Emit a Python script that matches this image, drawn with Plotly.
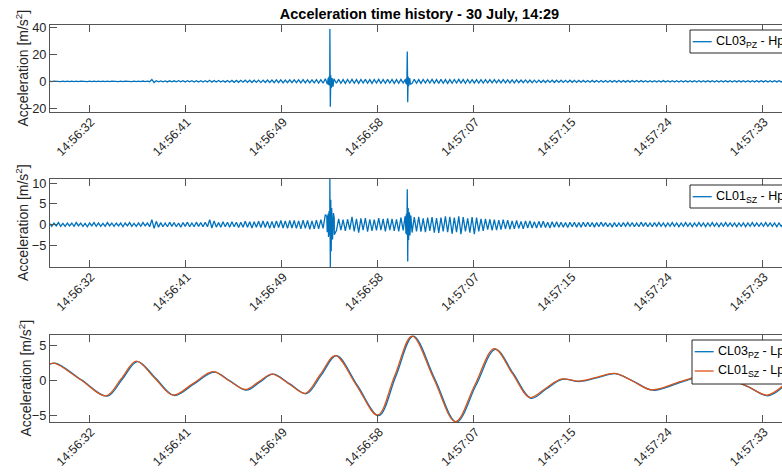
import numpy as np
import plotly.graph_objects as go

# ---- time base: seconds after 14:56:00 ----
x_range = [29.04, 94.87]
tick_seconds = [32.55, 41.2, 49.85, 58.5, 67.15, 75.8, 84.45, 93.1]
tick_labels = ["14:56:32", "14:56:41", "14:56:49", "14:56:58",
               "14:57:07", "14:57:15", "14:57:24", "14:57:33"]

# high-pass records, one value every 0.2 s starting at 29.0 s
hp_t0 = 29.0
hp_dt = 0.2

cl03_hp = [
    0.15, -0.2, 0.15, -0.1, 0.2, -0.15, 0.1, -0.2, 0.15, -0.15,
    0.2, -0.15, 0.1, -0.2, 0.15, -0.1, 0.2, -0.15, 0.15, -0.2,
    0.1, -0.15, 0.2, -0.15, 0.15, -0.2, 0.1, -0.15, 0.2, -0.1,
    0.15, -0.2, 0.15, -0.15, 0.2, -0.1, 0.15, -0.2, 0.15, -0.15,
    0.2, -0.2, 0.25, -0.2, 0.2, -0.3, 1.3, -0.9, 0.5, -0.4,
    0.35, -0.4, 0.3, -0.45, 0.4, -0.35, 0.4, -0.4, 0.45, -0.4,
    0.4, -0.45, 0.5, -0.4, 0.45, -0.5, 0.4, -0.45, 0.5, -0.45,
    0.5, -0.5, 0.8, -0.6, 0.55, -0.5, 0.6, -0.55, 0.5, -0.6,
    0.65, -0.65, 0.7, -0.75, 0.65, -0.7, 0.75, -0.65, 0.8, -0.75,
    0.8, -0.9, 0.85, -0.8, 0.9, -0.95, 0.9, -0.85, 1.0, -0.9,
    1.0, -0.95, 1.1, -1.0, 1.05, -1.1, 1.0, -1.05, 1.1, -1.0,
    1.1, -1.05, 1.15, -1.1, 1.2, -1.1, 1.05, -1.2, 1.1, -1.15,
    1.2, -1.3, 1.2, -1.4, 1.9, -1.6, 1.4, -1.7, 1.5, -1.4,
    1.5, -1.4, 1.3, -1.5, 1.4, -1.3, 1.5, -1.4, 1.3, -1.5,
    1.4, -1.3, 1.5, -1.4, 1.3, -1.5, 1.4, -1.3, 1.5, -1.4,
    1.3, -1.4, 1.5, -1.3, 1.4, -1.5, 1.3, -1.4, 1.5, -1.3,
    1.4, -1.5, 1.7, -1.6, 1.5, -1.4, 1.3, -1.5, 1.4, -1.3,
    1.4, -1.3, 1.5, -1.4, 1.3, -1.5, 1.4, -1.4, 1.3, -1.5,
    1.3, -1.4, 1.4, -1.3, 1.5, -1.3, 1.3, -1.4, 1.4, -1.3,
    1.3, -1.2, 1.3, -1.3, 1.2, -1.3, 1.2, -1.2, 1.3, -1.2,
    1.2, -1.2, 1.1, -1.2, 1.2, -1.1, 1.1, -1.2, 1.1, -1.1,
    1.05, -1.05, 0.95, -1.05, 1.05, -0.95, 0.95, -1.0, 0.9, -0.95,
    0.9, -0.9, 0.8, -0.9, 0.9, -0.8, 0.8, -0.9, 0.8, -0.8,
    0.8, -0.8, 0.7, -0.8, 0.8, -0.7, 0.7, -0.8, 0.65, -0.7,
    0.65, -0.7, 0.65, -0.65, 0.7, -0.6, 0.65, -0.65, 0.6, -0.65,
    0.6, -0.65, 0.6, -0.6, 0.65, -0.55, 0.6, -0.6, 0.55, -0.6,
    0.55, -0.6, 0.55, -0.55, 0.6, -0.55, 0.55, -0.55, 0.5, -0.55,
    0.5, -0.5, 0.5, -0.55, 0.5, -0.5, 0.55, -0.5, 0.45, -0.5,
    0.5, -0.45, 0.5, -0.5, 0.45, -0.5, 0.45, -0.45, 0.5, -0.45,
    0.45, -0.5, 0.45, -0.45, 0.5, -0.45, 0.45, -0.45, 0.45, -0.5,
    0.45, -0.45, 0.5, -0.45, 0.45, -0.45, 0.45, -0.5, 0.45, -0.45,
    0.45, -0.45, 0.45, -0.5, 0.45, -0.45, 0.5, -0.45, 0.45, -0.45,
    0.45, -0.45, 0.45, -0.45, 0.5, -0.45, 0.45, -0.45, 0.45, -0.45,
    0.4,
]

cl01_hp = [
    0.3, -0.4, 0.4, -0.3, 0.5, -0.4, 0.3, -0.4, 0.4, -0.3,
    0.4, -0.4, 0.5, -0.3, 0.4, -0.4, 0.3, -0.5, 0.4, -0.3,
    0.5, -0.4, 0.4, -0.4, 0.3, -0.4, 0.5, -0.3, 0.4, -0.4,
    0.4, -0.3, 0.4, -0.5, 0.4, -0.3, 0.5, -0.4, 0.3, -0.4,
    0.4, -0.4, 0.5, -0.3, 0.4, -0.5, 1.2, -0.9, 0.8, -0.6,
    0.5, -0.5, 0.4, -0.5, 0.6, -0.4, 0.5, -0.5, 0.4, -0.6,
    0.5, -0.4, 0.6, -0.5, 0.4, -0.5, 0.6, -0.4, 0.5, -0.5,
    0.6, -0.5, 1.2, -0.8, 0.9, -0.6, 0.5, -0.6, 0.7, -0.5,
    0.6, -0.6, 0.7, -0.5, 0.6, -0.7, 0.6, -0.6, 0.8, -0.6,
    0.7, -0.8, 0.7, -0.6, 0.8, -0.7, 0.9, -0.7, 0.8, -0.9,
    0.8, -0.8, 0.9, -0.7, 1.0, -0.8, 0.9, -0.9, 1.0, -0.8,
    1.0, -0.9, 0.9, -1.0, 1.1, -0.9, 1.0, -1.1, 0.9, -1.0,
    1.1, -1.0, 1.2, -0.9, 2.4, -1.0, 1.5, -2.0, 1.6, -1.4,
    1.4, -1.3, 1.2, -1.5, 1.3, -1.2, 1.9, -1.6, 1.4, -1.9,
    1.5, -1.3, 1.6, -1.7, 1.3, -1.5, 1.2, -1.4, 1.6, -1.3,
    1.4, -1.6, 1.5, -1.3, 1.4, -1.5, 1.3, -1.6, 1.7, -1.4,
    1.6, -1.5, 2.2, -1.9, 1.8, -1.6, 1.9, -1.7, 1.5, -1.8,
    1.7, -1.5, 1.8, -1.9, 1.6, -2.0, 1.7, -1.6, 2.0, -1.8,
    1.9, -2.2, 1.7, -1.8, 2.0, -2.3, 1.8, -1.6, 1.5, -1.9,
    1.8, -2.3, 1.7, -1.6, 1.4, -1.5, 1.4, -1.2, 1.3, -1.4,
    1.2, -1.3, 1.1, -1.2, 1.2, -1.0, 1.1, -1.1, 0.9, -1.0,
    1.0, -0.9, 0.8, -1.0, 0.9, -0.8, 0.9, -0.8, 0.7, -0.8,
    0.8, -0.7, 0.8, -0.7, 0.6, -0.8, 0.7, -0.6, 0.7, -0.6,
    0.6, -0.6, 0.5, -0.7, 0.6, -0.5, 0.6, -0.6, 0.5, -0.6,
    0.6, -0.5, 0.6, -0.5, 0.5, -0.6, 0.5, -0.5, 0.6, -0.4,
    0.5, -0.5, 0.4, -0.6, 0.5, -0.5, 0.4, -0.5, 0.5, -0.4,
    0.5, -0.4, 0.5, -0.5, 0.4, -0.5, 0.6, -0.4, 0.5, -0.5,
    0.4, -0.5, 0.5, -0.4, 0.5, -0.4, 0.4, -0.5, 0.4, -0.4,
    0.5, -0.4, 0.4, -0.5, 0.4, -0.4, 0.5, -0.4, 0.4, -0.5,
    0.4, -0.4, 0.5, -0.4, 0.4, -0.5, 0.4, -0.4, 0.5, -0.4,
    0.4, -0.5, 0.4, -0.4, 0.5, -0.4, 0.4, -0.4, 0.4, -0.5,
    0.4, -0.4, 0.4, -0.5, 0.4, -0.4, 0.5, -0.4, 0.4, -0.4,
    0.4, -0.4, 0.5, -0.4, 0.4, -0.4, 0.4, -0.5, 0.4, -0.4,
    0.3,
]

# impulsive events, sampled more densely
cl03_ev1_t = [53.97, 54.05, 54.09, 54.13, 54.17, 54.21, 54.25, 54.29, 54.33, 54.41, 54.49, 54.57]
cl03_ev1_v = [-1.8, 2.2, -2.6, 3.5, -3.0, 38.8, -18.8, 4.5, -5.0, 2.5, -4.0, 1.8]
cl03_ev2_t = [61.05, 61.09, 61.13, 61.17, 61.21, 61.25, 61.29, 61.37, 61.45]
cl03_ev2_v = [-1.8, 2.2, -2.5, 22.0, -15.5, 3.5, -3.5, 2.2, -2.0]

cl01_ev1_t = [53.93, 53.97, 54.05, 54.09, 54.13, 54.17, 54.21, 54.25, 54.29, 54.33, 54.37, 54.45, 54.53, 54.61]
cl01_ev1_v = [2.0, -1.8, 2.6, -3.0, 3.2, -2.5, 11.0, -10.2, 6.0, -6.4, 4.0, -3.6, 2.8, -2.4]
cl01_ev2_t = [60.97, 61.05, 61.09, 61.13, 61.17, 61.21, 61.25, 61.29, 61.33, 61.41, 61.49]
cl01_ev2_v = [2.0, -2.2, 2.6, -2.4, 8.5, -8.9, 4.0, -3.7, 3.0, -2.6, 2.2]

# low-pass records (turning points and crossings)
cl03_lp_t = [29.0, 29.6, 31.9, 34.2, 35.55, 36.9, 38.55, 40.2, 42.0, 43.8, 45.25, 46.7, 47.9, 49.1,
             50.6, 52.1, 53.45, 54.8, 56.7, 58.6, 60.15, 61.7, 63.65, 65.6, 67.35, 69.1, 70.7, 72.3,
             73.7, 75.1, 76.7, 78.3, 79.95, 81.6, 83.25, 85.9, 88.7, 91.8, 93.6, 94.9]
cl03_lp_v = [2.35, 2.5, 0.1, -2.2, 0.25, 2.75, 0.35, -2.1, -0.45, 1.25, -0.05, -1.35, -0.2, 0.95,
             -0.45, -1.85, 0.85, 3.6, -0.7, -5.0, 0.7, 6.4, 0.25, -5.9, -0.65, 4.5, 1.05, -2.5,
             -1.15, 0.2, -0.1, 0.45, 1.0, -0.15, -1.35, -0.15, 0.95, -0.85, -2.15, -0.95]
cl01_lp_t = [29.0, 29.5, 31.8, 34.1, 35.45, 36.8, 38.45, 40.1, 41.9, 43.7, 45.15, 46.6, 47.8, 49.0,
             50.5, 52.0, 53.35, 54.7, 56.6, 58.5, 60.05, 61.6, 63.55, 65.5, 67.25, 69.0, 70.6, 72.2,
             73.6, 75.0, 76.6, 78.2, 79.85, 81.5, 83.15, 85.8, 88.6, 91.7, 93.5, 94.9]
cl01_lp_v = [2.4, 2.5, 0.15, -2.15, 0.3, 2.8, 0.4, -2.05, -0.4, 1.3, 0.0, -1.25, -0.15, 0.95,
             -0.4, -1.8, 0.9, 3.6, -0.65, -4.9, 0.75, 6.4, 0.3, -5.85, -0.6, 4.6, 1.1, -2.4,
             -1.1, 0.25, -0.05, 0.5, 1.05, -0.1, -1.3, -0.1, 1.0, -0.75, -2.05, -0.8]

BLUE = "#0072BD"
ORANGE = "#D95319"
AXIS = "#555555"
TXT = "#262626"
FONT = "Liberation Sans, Arial, Helvetica, sans-serif"
Y_TITLE = "Acceleration [m/s<sup>2</sup>]"


def record(values, extra_t, extra_v):
    """Regular samples plus the densely sampled events, in time order."""
    t = hp_t0 + hp_dt * np.arange(len(values))
    t = np.concatenate([t] + [np.asarray(e) for e in extra_t])
    v = np.concatenate([np.asarray(values)] + [np.asarray(e) for e in extra_v])
    order = np.argsort(t, kind="stable")
    return t[order], v[order]


t03, v03 = record(cl03_hp, [cl03_ev1_t, cl03_ev2_t], [cl03_ev1_v, cl03_ev2_v])
t01, v01 = record(cl01_hp, [cl01_ev1_t, cl01_ev2_t], [cl01_ev1_v, cl01_ev2_v])

fig = go.Figure()
fig.add_trace(go.Scatter(x=t03, y=v03, mode="lines", name="CL03<sub>PZ</sub> - Hp",
                         line=dict(color=BLUE, width=1.3), xaxis="x", yaxis="y"))
fig.add_trace(go.Scatter(x=t01, y=v01, mode="lines", name="CL01<sub>SZ</sub> - Hp",
                         line=dict(color=BLUE, width=1.3), xaxis="x2", yaxis="y2"))
fig.add_trace(go.Scatter(x=cl03_lp_t, y=cl03_lp_v, mode="lines", name="CL03<sub>PZ</sub> - Lp",
                         line=dict(color=BLUE, width=1.3, shape="spline", smoothing=1.0),
                         xaxis="x3", yaxis="y3"))
fig.add_trace(go.Scatter(x=cl01_lp_t, y=cl01_lp_v, mode="lines", name="CL01<sub>SZ</sub> - Lp",
                         line=dict(color=ORANGE, width=1.3, shape="spline", smoothing=1.0),
                         xaxis="x3", yaxis="y3"))

# panel geometry in pixels (top, bottom) for a 782 x 475 page
L, R, T, B = 50, 782, 25, 422
panels = [(25, 112), (179, 267), (335, 422)]
y_title_x = [22, 22, 25]


def fy(py):
    return (B - py) / (B - T)


def fx(px):
    return (px - L) / (R - L)


xcommon = dict(range=x_range, tickmode="array", tickvals=tick_seconds, ticktext=tick_labels,
               tickangle=-45, ticks="inside", ticklen=7, tickwidth=1, tickcolor=AXIS,
               ticklabelstandoff=-3, ticklabelshift=2,
               showline=True, linecolor=AXIS, linewidth=1, mirror="ticks",
               showgrid=False, zeroline=False, tickfont=dict(family=FONT, size=12.3, color=TXT))
ycommon = dict(ticks="inside", ticklen=7, tickwidth=1, tickcolor=AXIS, showline=True,
               linecolor=AXIS, linewidth=1, mirror=False, showgrid=False, zeroline=False,
               tickfont=dict(family=FONT, size=12.8, color=TXT))

y_ranges = [[-22.7, 41.7], [-10.2, 11.0], [-5.9, 6.55]]
y_ticks = [[-20, 0, 20, 40], [-5, 0, 5, 10], [-5, 0, 5]]

layout = dict(
    width=782, height=475,
    margin=dict(l=L, r=782 - R, t=T, b=475 - B, autoexpand=False),
    paper_bgcolor="white", plot_bgcolor="white", showlegend=False,
    font=dict(family=FONT, color=TXT),
    title=dict(text="<b>Acceleration time history - 30 July, 14:29</b>",
               font=dict(family=FONT, size=14.5, color="black"),
               x=fx(419.5), xref="paper", xanchor="center", y=(475 - 14) / 475, yanchor="middle"),
)
for i, (top, bot) in enumerate(panels):
    sfx = "" if i == 0 else str(i + 1)
    layout["xaxis" + sfx] = dict(xcommon, domain=[0, 1], anchor="y" + sfx)
    layout["yaxis" + sfx] = dict(ycommon, domain=[fy(bot), fy(top)], anchor="x" + sfx,
                                 range=y_ranges[i], tickvals=y_ticks[i])
fig.update_layout(**layout)

# y-axis titles
for i, (top, bot) in enumerate(panels):
    fig.add_annotation(text=Y_TITLE, textangle=-90, xref="paper", yref="paper",
                       x=fx(y_title_x[i]), y=fy((top + bot) / 2), xanchor="center", yanchor="middle",
                       showarrow=False, font=dict(family=FONT, size=14, color=TXT))

# legend boxes (they run past the right edge of the page)
legends = [
    (690, 30, 53, [(41.7, BLUE, "CL03<sub>PZ</sub> - Hp")]),
    (690, 185, 208, [(196.7, BLUE, "CL01<sub>SZ</sub> - Hp")]),
    (692, 340, 384, [(351.7, BLUE, "CL03<sub>PZ</sub> - Lp"), (371.0, ORANGE, "CL01<sub>SZ</sub> - Lp")]),
]
for x0, y0, y1, items in legends:
    fig.add_shape(type="rect", xref="paper", yref="paper", x0=fx(x0), x1=fx(820), y0=fy(y1), y1=fy(y0),
                  line=dict(color="#262626", width=1), fillcolor="white", layer="above")
    for yy, col, label in items:
        fig.add_shape(type="line", xref="paper", yref="paper", x0=fx(x0 + 2.7), x1=fx(x0 + 21.7),
                      y0=fy(yy), y1=fy(yy), line=dict(color=col, width=1.3), layer="above")
        fig.add_annotation(text=label, xref="paper", yref="paper", x=fx(x0 + 24), y=fy(yy),
                           xanchor="left", yanchor="middle", showarrow=False,
                           font=dict(family=FONT, size=12.5, color="black"))

fig.write_html("out.html")
